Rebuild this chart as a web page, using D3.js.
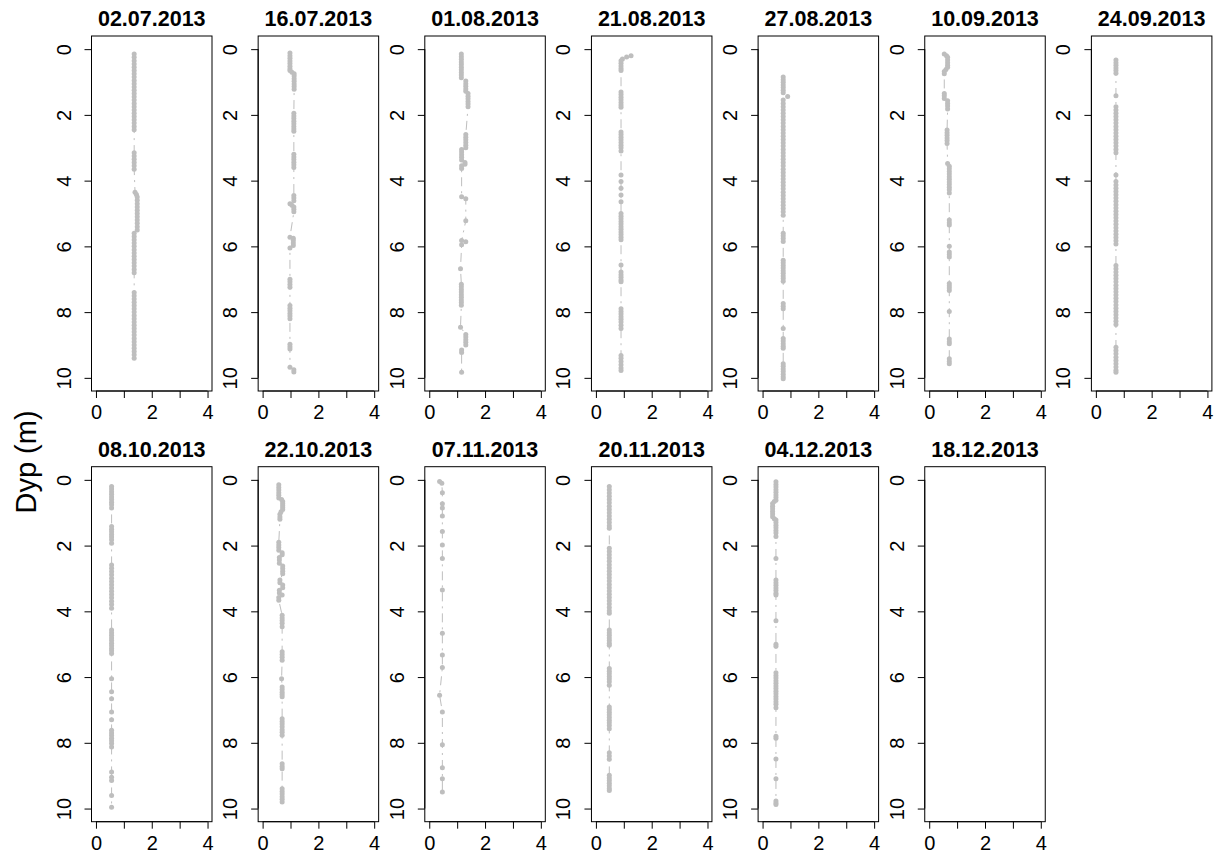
<!DOCTYPE html>
<html><head><meta charset="utf-8">
<script src="https://cdn.jsdelivr.net/npm/d3@7"></script>
<style>body{margin:0;background:#fff}</style>
</head><body>
<svg id="c" width="1220" height="856"></svg>
<script>
// ---- data: panel titles, tick values, and profiles [x value, [depths...]] in depth order
const dates = ["02.07.2013","16.07.2013","01.08.2013","21.08.2013","27.08.2013","10.09.2013","24.09.2013",
               "08.10.2013","22.10.2013","07.11.2013","20.11.2013","04.12.2013","18.12.2013"];
const xTicks = [0,1,2,3,4];
const xTickLabels = ["0","","2","","4"];
const yTicks = [0,2,4,6,8,10];
const yLabel = "Dyp (m)";

const p0207 = [[1.37,[0.15,0.25,0.35,0.45,0.55,0.65,0.75,0.85,0.95,1.05,1.15,1.25,1.35,1.45,1.55,1.65,1.75,1.85,1.95,2.05,2.15,2.25,2.35,2.45]],
  [1.37,[3.15,3.25,3.35,3.45,3.55,3.65]],[1.40,[4.35]],[1.45,[4.42]],
  [1.48,[4.5,4.6,4.7,4.8,4.9,5.0,5.1,5.2,5.3,5.4,5.5]],
  [1.37,[5.6,5.7,5.8,5.9,6.0,6.1,6.2,6.3,6.4,6.5,6.6,6.7,6.8]],
  [1.37,[7.4,7.5,7.6,7.7,7.8,7.9,8.0,8.1,8.2,8.3,8.4,8.5,8.6,8.7,8.8,8.9,9.0,9.1,9.2,9.3,9.4]]];
const p1607 = [[0.98,[0.12,0.2,0.28,0.36,0.44,0.52,0.6,0.65]],[1.05,[0.7]],[1.13,[0.75,0.82,0.9,0.98,1.06,1.14,1.22]],
  [1.12,[1.95,2.03,2.11,2.19,2.27,2.35,2.43,2.5]],[1.12,[3.2,3.28,3.36,3.44,3.52,3.6]],
  [1.12,[4.45,4.53,4.61]],[0.98,[4.7]],[1.05,[4.75]],[1.12,[4.8,4.87,4.95]],
  [0.98,[5.72]],[1.1,[5.75,5.82,5.9,5.97]],[0.98,[6.05]],
  [0.98,[7.0,7.08,7.16,7.24]],[0.98,[7.8,7.88,7.96,8.04,8.12,8.2]],[0.98,[8.98,9.05,9.12]],
  [0.98,[9.68]],[1.12,[9.75,9.82]]];
const p0108 = [[1.15,[0.15,0.23,0.31,0.39,0.47,0.55,0.63,0.71,0.79,0.87]],[1.31,[0.97,1.05,1.13,1.21,1.28]],
  [1.39,[1.35,1.43,1.51,1.59,1.67,1.75]],[1.31,[2.6,2.68,2.76,2.84,2.92,3.0]],
  [1.16,[3.05,3.13,3.21,3.29,3.37]],[1.28,[3.45,3.5]],[1.16,[3.55,3.63]],
  [1.16,[4.49]],[1.31,[4.55]],[1.31,[5.22]],[1.16,[5.82]],[1.31,[5.86]],[1.16,[5.95]],
  [1.12,[6.68]],[1.15,[7.15,7.23,7.31,7.39,7.47,7.55,7.63,7.71,7.79]],[1.12,[8.46]],
  [1.31,[8.68,8.76,8.84,8.92,9.0]],[1.16,[9.15,9.23]],[1.16,[9.83]]];
const p2108 = [[1.26,[0.2]],[1.1,[0.24]],[0.95,[0.3]],[0.9,[0.35,0.43,0.51,0.59,0.65]],
  [0.9,[1.3,1.38,1.46,1.54,1.62,1.7,1.77]],[0.9,[2.52,2.6,2.68,2.76,2.84,2.92,3.0,3.1]],
  [0.9,[3.83,4.03,4.23,4.44,4.64]],[0.9,[5.0,5.08,5.16,5.24,5.32,5.4,5.48,5.56,5.64,5.72,5.8]],
  [0.9,[6.57]],[0.9,[6.78,6.86,6.94,7.02,7.08]],[0.9,[7.9,7.98,8.06,8.14,8.22,8.3,8.4,8.5]],
  [0.9,[9.32,9.4,9.5,9.6,9.7,9.78]]];
const p2708 = [[0.74,[0.85,0.93,1.01,1.09,1.17,1.25,1.33]],[0.9,[1.44]],
  [0.74,[1.55,1.65,1.75,1.85,1.95,2.05,2.15,2.25,2.35,2.45,2.55,2.65,2.75,2.85,2.95,3.05,3.15,3.25,3.35,3.45,3.55,3.65,3.75,3.85,3.95,4.05,4.15,4.25,4.35,4.45,4.55,4.65,4.75,4.85,4.95,5.05]],
  [0.74,[5.6,5.68,5.76,5.85]],[0.74,[6.42,6.5,6.58,6.66,6.74,6.82,6.9,6.98,7.06]],[0.74,[7.74,7.82,7.9]],
  [0.74,[8.5]],[0.74,[8.8,8.88,8.96,9.04,9.1]],[0.74,[9.57,9.65,9.73,9.81,9.89,9.97,10.03]]];
const p1009 = [[0.54,[0.15]],[0.62,[0.2]],[0.66,[0.25,0.33,0.41,0.49,0.55]],[0.6,[0.62]],[0.54,[0.68,0.75]],
  [0.54,[1.35,1.42,1.5]],[0.66,[1.57,1.65,1.73,1.82]],[0.64,[2.46,2.54,2.62,2.7,2.78,2.87]],
  [0.66,[3.48]],[0.72,[3.56,3.64,3.72,3.8,3.88,3.96,4.04,4.12,4.2,4.28,4.38]],[0.72,[5.2,5.28,5.35]],
  [0.72,[6.0,6.17,6.25,6.32]],[0.72,[7.13,7.2,7.27,7.34]],[0.72,[7.98]],[0.72,[8.82,8.9,8.96]],[0.72,[9.42,9.5,9.57]]];
const p2409 = [[0.72,[0.33,0.41,0.49,0.57,0.65,0.73]],[0.72,[1.42]],
  [0.72,[1.75,1.85,1.95,2.05,2.15,2.25,2.35,2.45,2.55,2.65,2.75,2.85,2.95,3.05,3.15]],[0.72,[3.83]],
  [0.72,[4.03,4.13,4.23,4.33,4.43,4.53,4.63,4.73,4.83,4.93,5.03,5.13,5.23,5.33,5.43,5.53,5.63,5.73,5.83,5.93]],
  [0.72,[6.58,6.68,6.78,6.88,6.98,7.08,7.18,7.28,7.38,7.48,7.58,7.68,7.78,7.88,7.98,8.08,8.18,8.28,8.38]],
  [0.72,[9.07,9.17,9.27,9.37,9.47,9.57,9.67,9.77,9.83]]];
const p0810 = [[0.56,[0.2,0.28,0.36,0.44,0.52,0.6,0.68,0.76,0.86]],[0.56,[1.42,1.5,1.58,1.66,1.74,1.82,1.93]],
  [0.56,[2.59,2.69,2.79,2.89,2.99,3.09,3.19,3.29,3.39,3.49,3.59,3.69,3.79,3.91]],
  [0.56,[4.57,4.65,4.73,4.81,4.89,4.97,5.05,5.13,5.2,5.28]],[0.56,[6.05,6.45,6.66,7.06,7.3]],
  [0.56,[7.62,7.7,7.78,7.86,7.94,8.02,8.13]],[0.56,[8.89,9.05,9.15,9.6,9.96]]];
const p2210 = [[0.58,[0.15,0.23,0.31,0.39,0.47,0.55]],[0.68,[0.6]],[0.72,[0.66,0.72,0.78,0.84,0.9]],[0.66,[0.97]],[0.62,[1.05,1.13,1.2]],
  [0.58,[1.9,1.98,2.06,2.14]],[0.7,[2.22,2.28]],[0.6,[2.36,2.44,2.54]],[0.72,[2.62,2.7,2.78,2.86]],
  [0.62,[3.05,3.13]],[0.72,[3.2,3.28]],[0.6,[3.36,3.44]],[0.7,[3.5]],[0.58,[3.58,3.66]],
  [0.7,[4.12,4.2,4.28,4.36,4.47]],[0.7,[5.23,5.31,5.4,5.49]],[0.68,[6.05]],[0.7,[6.3,6.38,6.46,6.53,6.6]],
  [0.7,[7.27,7.35,7.43,7.51,7.6,7.68,7.77]],[0.7,[8.64,8.72,8.79]],[0.7,[9.4,9.48,9.56,9.64,9.72,9.8]]];
const p0711 = [[0.37,[0.05]],[0.45,[0.1]],[0.47,[0.39,0.73,0.86,1.1,1.57,1.98,2.39,3.35,4.67,5.33,5.71]],
  [0.37,[6.55]],[0.47,[7.06,8.06,8.76,9.09,9.5]]];
const p2011 = [[0.48,[0.2,0.3,0.4,0.5,0.6,0.7,0.8,0.9,1.0,1.1,1.2,1.3,1.4,1.47]],
  [0.48,[2.08,2.18,2.28,2.38,2.48,2.58,2.68,2.78,2.88,2.98,3.08,3.18,3.28,3.38,3.48,3.58,3.68,3.78,3.88,3.98,4.06]],
  [0.48,[4.57,4.65,4.73,4.81,4.89,4.97,5.03]],[0.48,[5.74,5.82,5.9,5.98,6.06,6.14,6.25]],
  [0.48,[6.91,6.99,7.07,7.15,7.23,7.31,7.39,7.47,7.57]],[0.48,[8.3,8.4,8.5]],
  [0.48,[8.99,9.07,9.15,9.23,9.31,9.39,9.45]]];
const p0412 = [[0.48,[0.06,0.14,0.22,0.3,0.38,0.46,0.54,0.62]],[0.42,[0.66]],[0.36,[0.72,0.8,0.88,0.96,1.04,1.12]],[0.42,[1.18]],
  [0.48,[1.22,1.3,1.38,1.46,1.54,1.62,1.72]],[0.48,[2.39]],[0.48,[3.05,3.13,3.21,3.29,3.37,3.45,3.5]],
  [0.48,[4.29]],[0.48,[5.0,5.06]],[0.48,[5.87,5.95,6.03,6.11,6.19,6.27,6.35,6.43,6.51,6.59,6.67,6.75,6.83,6.93]],
  [0.48,[7.8,7.86]],[0.48,[8.49]],[0.48,[9.09]],[0.48,[9.77,9.83,9.88]]];
const p1812 = [];
const profiles = [p0207,p1607,p0108,p2108,p2708,p1009,p2409,p0810,p2210,p0711,p2011,p0412,p1812];

// ---- layout
const svg = d3.select("#c");
const font = "'Liberation Sans', Arial, sans-serif";
const colPitch = 166.65, firstLeft = 91.5, boxW = 120.5, boxH = 355;
const rowTop = [36, 466.7];
const ink = "#000", gray = "#BEBEBE";

profiles.forEach((prof, i) => {
  const col = i % 7, row = Math.floor(i / 7);
  const L = firstLeft + col * colPitch, T = rowTop[row];
  const x = d3.scaleLinear().domain([-0.16, 4.16]).range([L, L + boxW]);
  const y = d3.scaleLinear().domain([-0.4, 10.4]).range([T, T + boxH]);
  const g = svg.append("g");

  const pts = prof.flatMap(([v, ds]) => ds.map(d => ({v, d})));
  if (pts.length) {
    g.append("path").datum(pts)
      .attr("d", d3.line().x(p => x(p.v)).y(p => y(p.d)))
      .attr("fill", "none").attr("stroke", gray).attr("stroke-width", 1)
      .attr("stroke-dasharray", "2,5,9,5");
    g.selectAll("circle").data(pts).join("circle")
      .attr("cx", p => x(p.v)).attr("cy", p => y(p.d)).attr("r", 2.5).attr("fill", gray);
  }

  g.append("rect").attr("x", L).attr("y", T).attr("width", boxW).attr("height", boxH)
    .attr("fill", "none").attr("stroke", ink).attr("stroke-width", 1);

  // x axis
  const xa = d3.axisBottom(x).tickValues(xTicks).tickSize(7).tickFormat((d, k) => xTickLabels[k]);
  const gx = g.append("g").attr("transform", `translate(0,${T + boxH})`).call(xa);
  gx.select(".domain").attr("d", `M${x(0)},0H${x(4)}`).attr("stroke", ink);
  gx.selectAll(".tick line").attr("stroke", ink);
  gx.selectAll("text").attr("font-family", font).attr("font-size", 20).attr("fill", ink)
    .attr("dy", null).attr("y", 28);

  // y axis
  const ya = d3.axisLeft(y).tickValues(yTicks).tickSize(7).tickFormat(d3.format("d"));
  const gy = g.append("g").attr("transform", `translate(${L},0)`).call(ya);
  gy.select(".domain").attr("d", `M0,${y(0)}V${y(10)}`).attr("stroke", ink);
  gy.selectAll(".tick line").attr("stroke", ink);
  gy.selectAll("text").attr("font-family", font).attr("font-size", 20).attr("fill", ink)
    .attr("x", null).attr("dy", null)
    .attr("text-anchor", "middle")
    .attr("transform", "translate(-21,0) rotate(-90)");

  // title
  g.append("text").attr("x", L + boxW / 2).attr("y", T - 10)
    .attr("text-anchor", "middle").attr("font-family", font).attr("font-weight", "bold")
    .attr("font-size", 21.5).attr("fill", ink).text(dates[i]);
});

svg.append("text").attr("transform", "translate(36,462) rotate(-90)")
  .attr("text-anchor", "middle").attr("font-family", font).attr("font-size", 29)
  .attr("fill", ink).text(yLabel);
</script>
</body></html>
